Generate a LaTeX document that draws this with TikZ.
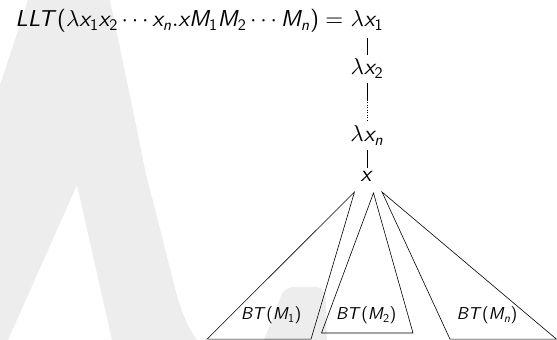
\documentclass[tikz,border=0pt]{standalone}
\usetikzlibrary{positioning}
% scalable Computer Modern math, with sans-serif letters as in the slides
\DeclareFontFamily{OML}{mycmm}{\skewchar\font127}
\DeclareFontShape{OML}{mycmm}{m}{it}{<->cmmi10}{}
\DeclareFontFamily{OT1}{mycmr}{}
\DeclareFontShape{OT1}{mycmr}{m}{n}{<->cmr10}{}
\DeclareFontFamily{OMS}{mycmsy}{\skewchar\font48}
\DeclareFontShape{OMS}{mycmsy}{m}{n}{<->cmsy10}{}
\DeclareFontFamily{OT1}{mycmss}{}
\DeclareFontShape{OT1}{mycmss}{m}{sl}{<->cmssi10}{}
\DeclareFontShape{OT1}{mycmss}{m}{n}{<->cmss10}{}
\DeclareSymbolFont{letters}{OML}{mycmm}{m}{it}
\DeclareSymbolFont{operators}{OT1}{mycmr}{m}{n}
\DeclareSymbolFont{symbols}{OMS}{mycmsy}{m}{n}
\DeclareSymbolFont{sfletters}{OT1}{mycmss}{m}{sl}
\DeclareSymbolFont{sfupright}{OT1}{mycmss}{m}{n}
\DeclareMathSymbol{B}{\mathalpha}{sfletters}{`B}
\DeclareMathSymbol{L}{\mathalpha}{sfletters}{`L}
\DeclareMathSymbol{M}{\mathalpha}{sfletters}{`M}
\DeclareMathSymbol{T}{\mathalpha}{sfletters}{`T}
\DeclareMathSymbol{n}{\mathalpha}{sfletters}{`n}
\DeclareMathSymbol{x}{\mathalpha}{sfletters}{`x}
\DeclareMathSymbol{1}{\mathalpha}{sfupright}{`1}
\DeclareMathSymbol{2}{\mathalpha}{sfupright}{`2}
\DeclareMathSymbol{(}{\mathopen}{sfupright}{`(}
\DeclareMathSymbol{)}{\mathclose}{sfupright}{`)}
\begin{document}
\begin{tikzpicture}[x=1pt,y=1pt,
  term/.style={inner sep=4pt, font=\fontsize{23}{27}\selectfont},
  btlabel/.style={inner sep=0pt, font=\fontsize{17.2}{20}\selectfont},
  edge/.style={line width=0.5pt},
  subtree/.style={line width=0.6pt},
  watermark/.style={fill=black!7, draw=none}]
\useasboundingbox (0,0) rectangle (557,340);
% faint lambda in the background
\fill[watermark] (28,340) -- (110,340) -- (135,220) -- (145,170) -- (173,60)
  .. controls (180,30) and (188,12) .. (197,0) -- (112,0) -- (77,155) -- (8,0)
  -- (0,0) -- (0,255) -- cycle;
\fill[watermark] (264,0) -- (281,44) .. controls (285,52) and (289,53) .. (296,53)
  -- (316,53) .. controls (323,53) and (326,46) .. (326,38) -- (327,0) -- cycle;
% the spine
\node[term, anchor=base] (l1) at (367,313) {$\lambda x_1$};
\node[term, anchor=base east, inner ysep=0pt, inner xsep=3pt] (lhs) at (l1.base west)
  {$LLT(\lambda x_1x_2\cdots x_n.xM_1M_2\cdots M_n) =$};
\node[term, anchor=base] (l2) at (367,265) {$\lambda x_2$};
\node[term, anchor=base] (ln) at (367,198) {$\lambda x_n$};
\node[term, anchor=base] (hd) at (367,158) {$x$};
\coordinate (gap) at (367,240);
\draw[edge, shorten <=3pt] (l1) -- (l2);
\draw[edge] (l2) -- (gap);
\draw[edge, dotted] (gap) -- (ln);
\draw[edge] (ln) -- (hd);
% the Boehm trees of the arguments
\draw[subtree] (354.5,148) -- (207,0.8) -- (311,0.8) -- cycle;
\draw[subtree] (373.5,147) -- (321.5,7) -- (413,7) -- cycle;
\draw[subtree] (382,148) -- (450,0.8) -- (556.5,0.8) -- cycle;
\node[btlabel, anchor=base] (bt1) at (271,20) {$BT(M_1)$};
\node[btlabel, anchor=base] (bt2) at (366,20) {$BT(M_2)$};
\node[btlabel, anchor=base] (btn) at (487,20) {$BT(M_n)$};
\end{tikzpicture}
\end{document}
